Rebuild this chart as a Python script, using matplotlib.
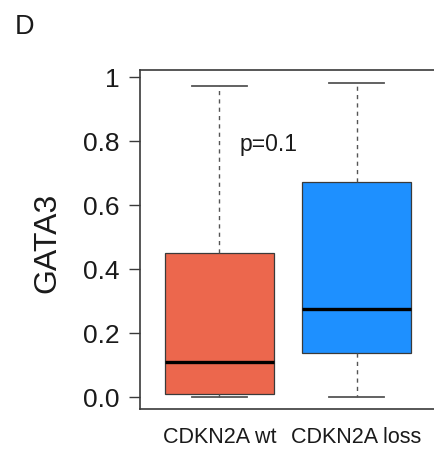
import matplotlib
matplotlib.use("Agg")
import matplotlib.pyplot as plt

plt.rcParams['font.family'] = ['Liberation Sans', 'DejaVu Sans']

# GATA3 expression summary per CDKN2A status
groups = ["CDKN2A wt", "CDKN2A loss"]
whisker_low = [0.0, 0.0]
q1 = [0.009, 0.136]
median = [0.110, 0.276]
q3 = [0.451, 0.671]
whisker_high = [0.972, 0.982]
fill_colors = ["#EC674D", "#1E90FF"]
y_ticks = [0.0, 0.2, 0.4, 0.6, 0.8, 1.0]
y_tick_labels = ["0.0", "0.2", "0.4", "0.6", "0.8", "1"]
p_text = "p=0.1"

fig = plt.figure(figsize=(4.35, 4.49), dpi=100)
ax = fig.add_axes([140 / 435, 40 / 449, 296 / 435, 339 / 449])

stats = []
for i, g in enumerate(groups):
    stats.append(dict(label=g, whislo=whisker_low[i], q1=q1[i], med=median[i],
                      q3=q3[i], whishi=whisker_high[i], fliers=[]))

bp = ax.bxp(stats, positions=[1, 2], widths=0.8, patch_artist=True,
            showfliers=False,
            boxprops=dict(edgecolor="#3a3a3a", linewidth=0.9),
            medianprops=dict(color="black", linewidth=2.4, solid_capstyle="butt"),
            whiskerprops=dict(color="#555555", linewidth=1.0, linestyle=(0, (3, 3))),
            capprops=dict(color="#555555", linewidth=1.3),
            capwidths=0.4)
for patch, c in zip(bp["boxes"], fill_colors):
    patch.set_facecolor(c)

ax.set_xlim(0.42, 2.58)
ax.set_ylim(-0.0375, 1.022)
ax.set_yticks(y_ticks)
ax.set_yticklabels(y_tick_labels)
ax.set_xticks([1, 2])
ax.set_xticklabels(groups)

for side in ("left", "top", "bottom", "right"):
    ax.spines[side].set_color("#3a3a3a")
    ax.spines[side].set_linewidth(1.2)

ax.tick_params(axis="y", direction="out", length=8, width=1.0, color="#3a3a3a",
               pad=7, labelsize=19, labelcolor="#1a1a1a")
ax.tick_params(axis="x", length=0, pad=13, labelsize=15.5, labelcolor="#1a1a1a")

ax.text(1.36, 0.79, p_text, ha="center", va="center", fontsize=16.5, color="#1a1a1a")

fig.text(47 / 435, 1 - 243 / 449, "GATA3", rotation=90, ha="center", va="center",
         fontsize=23, color="#1a1a1a")
fig.text(15 / 435, 1 - 34 / 449, "D", ha="left", va="baseline", fontsize=19.5,
         color="#1a1a1a")

fig.savefig("out.png", dpi=100)
